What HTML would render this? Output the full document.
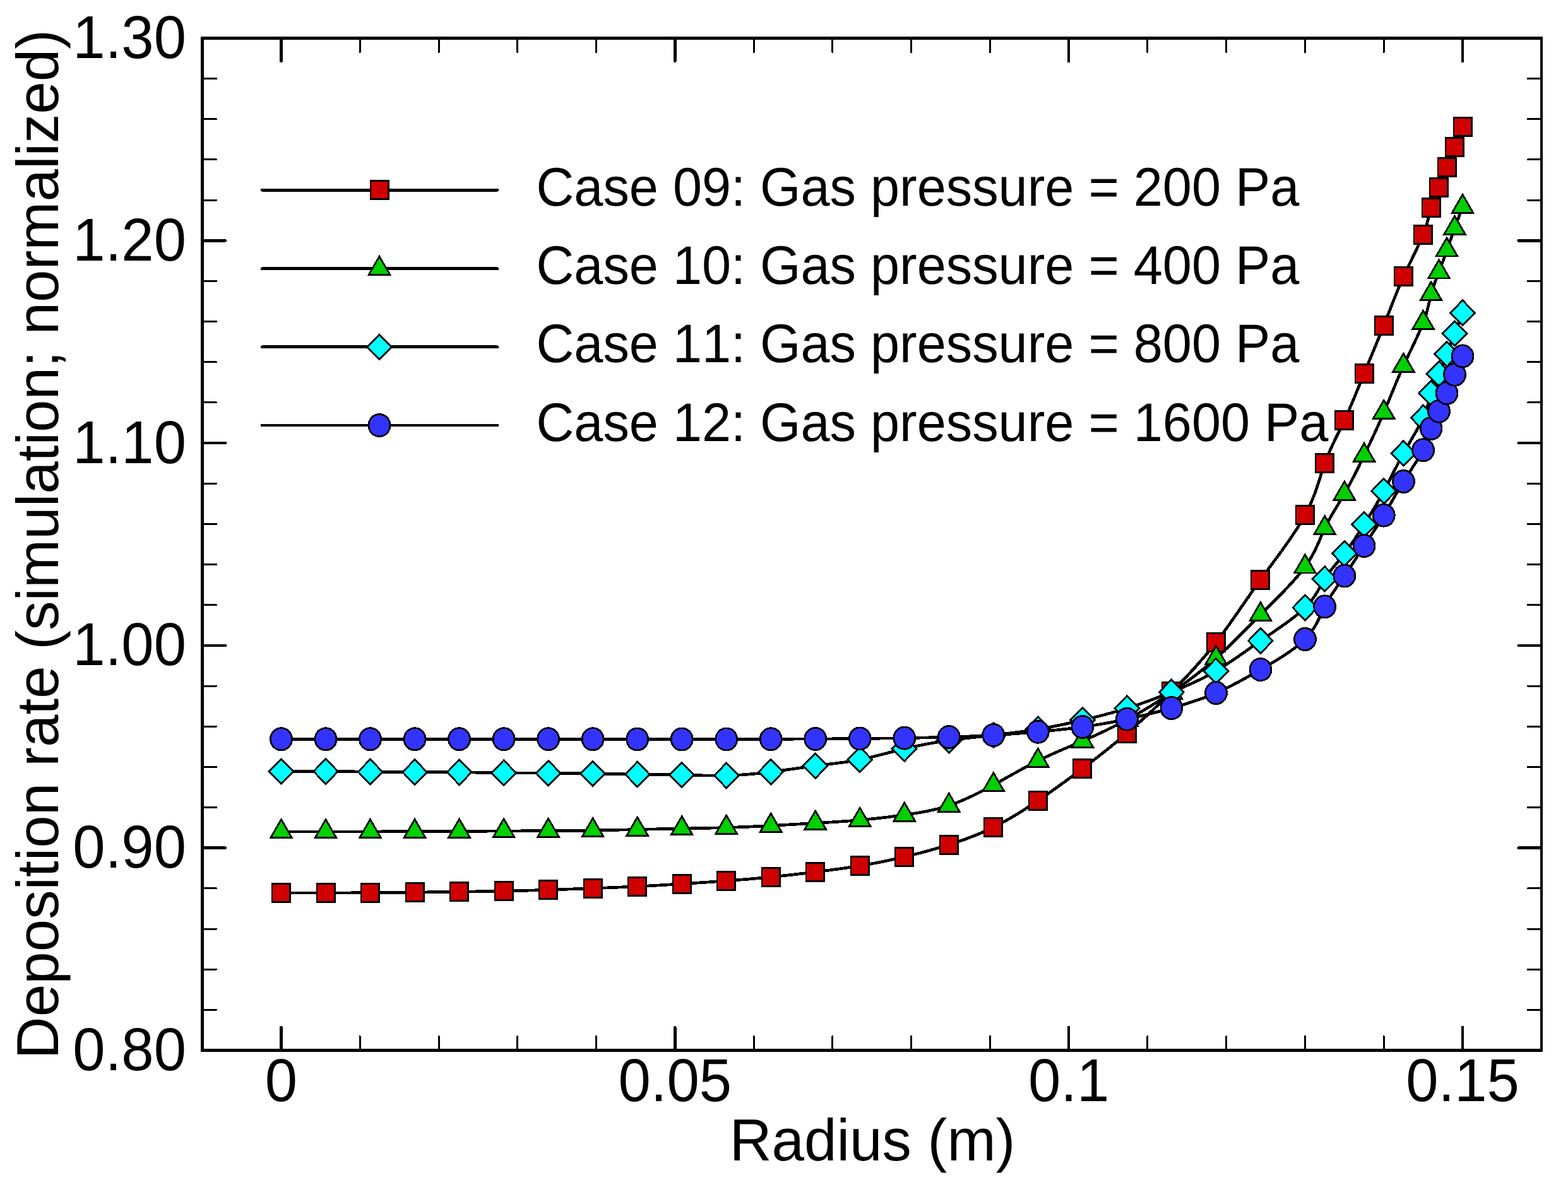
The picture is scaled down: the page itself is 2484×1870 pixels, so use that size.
<!DOCTYPE html>
<html lang="en">
<head>
<meta charset="utf-8">
<title>Deposition rate vs radius</title>
<style>
html,body{margin:0;padding:0;background:#fff;}
body{width:2484px;height:1870px;overflow:hidden;}
svg{display:block;}
text{font-family:"Liberation Sans",Arial,Helvetica,sans-serif;fill:#000;font-kerning:none;text-rendering:geometricPrecision;}
.ax{font-size:92.3px;}
.ti{font-size:92.6px;}
.lg{font-size:82.85px;}
</style>
</head>
<body>
<svg width="2484" height="1870" viewBox="0 0 2484 1870" shape-rendering="crispEdges">
<rect x="0" y="0" width="2484" height="1870" fill="#ffffff"/>
<g stroke="#000" stroke-linecap="round" fill="none">
<path stroke-width="4.6" d="M445.5 1664.5 V1628.2 M445.5 60.5 V96.8 M1069.34 1664.5 V1628.2 M1069.34 60.5 V96.8 M1693.17 1664.5 V1628.2 M1693.17 60.5 V96.8 M2317.01 1664.5 V1628.2 M2317.01 60.5 V96.8 M320.5 1343.7 H356.8 M2442 1343.7 H2405.7 M320.5 1022.9 H356.8 M2442 1022.9 H2405.7 M320.5 702.1 H356.8 M2442 702.1 H2405.7 M320.5 381.3 H356.8 M2442 381.3 H2405.7"/>
<path stroke-width="3" d="M570.27 1664.5 V1642.5 M570.27 60.5 V82.5 M695.03 1664.5 V1642.5 M695.03 60.5 V82.5 M819.8 1664.5 V1642.5 M819.8 60.5 V82.5 M944.57 1664.5 V1642.5 M944.57 60.5 V82.5 M1194.1 1664.5 V1642.5 M1194.1 60.5 V82.5 M1318.87 1664.5 V1642.5 M1318.87 60.5 V82.5 M1443.64 1664.5 V1642.5 M1443.64 60.5 V82.5 M1568.4 1664.5 V1642.5 M1568.4 60.5 V82.5 M1817.94 1664.5 V1642.5 M1817.94 60.5 V82.5 M1942.7 1664.5 V1642.5 M1942.7 60.5 V82.5 M2067.47 1664.5 V1642.5 M2067.47 60.5 V82.5 M2192.24 1664.5 V1642.5 M2192.24 60.5 V82.5 M2441.77 1664.5 V1642.5 M2441.77 60.5 V82.5 M320.5 1600.34 H342.5 M2442 1600.34 H2420 M320.5 1536.18 H342.5 M2442 1536.18 H2420 M320.5 1472.02 H342.5 M2442 1472.02 H2420 M320.5 1407.86 H342.5 M2442 1407.86 H2420 M320.5 1279.54 H342.5 M2442 1279.54 H2420 M320.5 1215.38 H342.5 M2442 1215.38 H2420 M320.5 1151.22 H342.5 M2442 1151.22 H2420 M320.5 1087.06 H342.5 M2442 1087.06 H2420 M320.5 958.74 H342.5 M2442 958.74 H2420 M320.5 894.58 H342.5 M2442 894.58 H2420 M320.5 830.42 H342.5 M2442 830.42 H2420 M320.5 766.26 H342.5 M2442 766.26 H2420 M320.5 637.94 H342.5 M2442 637.94 H2420 M320.5 573.78 H342.5 M2442 573.78 H2420 M320.5 509.62 H342.5 M2442 509.62 H2420 M320.5 445.46 H342.5 M2442 445.46 H2420 M320.5 317.14 H342.5 M2442 317.14 H2420 M320.5 252.98 H342.5 M2442 252.98 H2420 M320.5 188.82 H342.5 M2442 188.82 H2420 M320.5 124.66 H342.5 M2442 124.66 H2420"/>
</g>
<path fill="#000" fill-rule="evenodd" d="M318 58H2444V1667H318Z M323 63V1662H2440V63Z"/>
<text class="ax" transform="translate(295 1695.9) scale(1 1.04)" text-anchor="end">0.80</text>
<text class="ax" transform="translate(295 1375.1) scale(1 1.04)" text-anchor="end">0.90</text>
<text class="ax" transform="translate(295 1054.3) scale(1 1.04)" text-anchor="end">1.00</text>
<text class="ax" transform="translate(295 733.5) scale(1 1.04)" text-anchor="end">1.10</text>
<text class="ax" transform="translate(295 412.7) scale(1 1.04)" text-anchor="end">1.20</text>
<text class="ax" transform="translate(295 91.9) scale(1 1.04)" text-anchor="end">1.30</text>
<text class="ax" transform="translate(445.5 1745.2) scale(1 1.04)" text-anchor="middle">0</text>
<text class="ax" transform="translate(1069.34 1745.2) scale(1 1.04)" text-anchor="middle">0.05</text>
<text class="ax" transform="translate(1693.17 1745.2) scale(1 1.04)" text-anchor="middle">0.1</text>
<text class="ax" transform="translate(2317.01 1745.2) scale(1 1.04)" text-anchor="middle">0.15</text>
<text class="ti" transform="translate(1382 1838.5) scale(1 1.015)" text-anchor="middle">Radius (m)</text>
<text class="ti" transform="translate(92.3 862.5) rotate(-90) scale(1 1.015)" text-anchor="middle">Deposition rate (simulation; normalized)</text>
<g stroke="#000" stroke-width="4.7" stroke-linecap="round" fill="none">
<path d="M415 301.3 H788"/>
<path d="M415 425.7 H788"/>
<path d="M415 549.8 H788"/>
<path d="M415 674 H788"/>
</g>
<g fill="#d00000" stroke="#000" stroke-width="3" stroke-linejoin="miter"><rect x="586" y="285" width="31" height="32" fill="#000" stroke="none"/><rect x="588" y="288" width="26" height="26" stroke="none"/></g>
<text class="lg" transform="translate(849.5 325.8) scale(1 1.04)" text-anchor="start">Case 09: Gas pressure = 200 Pa</text>
<g fill="#00d000" stroke="#000" stroke-width="2.8" stroke-linejoin="miter"><path d="M601 406.3 L617.8 435.4 L584.2 435.4 Z"/></g>
<text class="lg" transform="translate(849.5 450.2) scale(1 1.04)" text-anchor="start">Case 10: Gas pressure = 400 Pa</text>
<g fill="#00ffff" stroke="#000" stroke-width="2.8" stroke-linejoin="miter"><path d="M601 530 L620.4 549.8 L601 569.6 L581.6 549.8 Z"/></g>
<text class="lg" transform="translate(849.5 574.3) scale(1 1.04)" text-anchor="start">Case 11: Gas pressure = 800 Pa</text>
<g fill="#3333ff" stroke="#000" stroke-width="2.8" stroke-linejoin="miter"><ellipse cx="601" cy="674" rx="17" ry="17.6"/></g>
<text class="lg" transform="translate(849.5 698.5) scale(1 1.04)" text-anchor="start">Case 12: Gas pressure = 1600 Pa</text>
<path d="M445.5 1415.1 L454.32 1415.09 L463.13 1415.08 L471.95 1415.07 L480.76 1415.06 L489.58 1415.05 L498.39 1415.04 L507.21 1415.02 L516.02 1415 L524.84 1414.98 L533.65 1414.95 L542.47 1414.92 L551.28 1414.88 L560.1 1414.84 L568.91 1414.8 L577.73 1414.75 L586.54 1414.7 L595.36 1414.64 L604.17 1414.58 L612.99 1414.51 L621.8 1414.44 L630.62 1414.37 L639.43 1414.28 L648.25 1414.19 L657.06 1414.1 L665.88 1414 L674.69 1413.89 L683.51 1413.78 L692.32 1413.67 L701.14 1413.55 L709.95 1413.44 L718.77 1413.32 L727.58 1413.2 L736.4 1413.08 L745.21 1412.96 L754.03 1412.84 L762.84 1412.71 L771.66 1412.58 L780.47 1412.43 L789.29 1412.27 L798.1 1412.1 L806.92 1411.91 L815.73 1411.71 L824.55 1411.49 L833.36 1411.26 L842.18 1411.01 L850.99 1410.75 L859.81 1410.48 L868.62 1410.2 L877.44 1409.91 L886.25 1409.61 L895.07 1409.3 L903.88 1408.99 L912.7 1408.67 L921.51 1408.35 L930.33 1408.03 L939.14 1407.7 L947.96 1407.37 L956.77 1407.04 L965.59 1406.71 L974.4 1406.36 L983.22 1406 L992.03 1405.62 L1000.85 1405.22 L1009.66 1404.8 L1018.48 1404.35 L1027.29 1403.88 L1036.11 1403.39 L1044.92 1402.88 L1053.74 1402.35 L1062.55 1401.81 L1071.37 1401.26 L1080.18 1400.7 L1089 1400.13 L1097.81 1399.56 L1106.63 1398.98 L1115.44 1398.39 L1124.26 1397.78 L1133.07 1397.17 L1141.89 1396.54 L1150.7 1395.9 L1159.52 1395.24 L1168.33 1394.56 L1177.15 1393.86 L1185.97 1393.14 L1194.78 1392.38 L1203.6 1391.59 L1212.41 1390.76 L1221.23 1389.9 L1230.04 1388.99 L1238.86 1388.05 L1247.67 1387.07 L1256.49 1386.06 L1265.3 1385.02 L1274.12 1383.96 L1282.93 1382.89 L1291.75 1381.8 L1300.56 1380.7 L1309.38 1379.58 L1318.19 1378.44 L1327.01 1377.25 L1335.82 1376.03 L1344.64 1374.75 L1353.45 1373.41 L1362.27 1372 L1371.08 1370.51 L1379.9 1368.94 L1388.71 1367.3 L1397.53 1365.57 L1406.34 1363.77 L1415.16 1361.89 L1423.97 1359.93 L1432.79 1357.9 L1441.6 1355.79 L1450.42 1353.6 L1459.23 1351.33 L1468.05 1348.97 L1476.86 1346.52 L1485.68 1343.98 L1494.49 1341.34 L1503.31 1338.6 L1512.12 1335.75 L1520.94 1332.78 L1529.75 1329.66 L1538.57 1326.36 L1547.38 1322.87 L1556.2 1319.16 L1565.01 1315.21 L1573.83 1311 L1582.64 1306.51 L1591.46 1301.75 L1600.27 1296.74 L1609.09 1291.51 L1617.9 1286.08 L1626.72 1280.47 L1635.53 1274.71 L1644.35 1268.8 L1653.16 1262.78 L1661.98 1256.64 L1670.79 1250.41 L1679.6 1244.08 L1688.42 1237.67 L1697.23 1231.18 L1706.05 1224.62 L1714.87 1218 L1723.69 1211.32 L1732.51 1204.58 L1741.33 1197.75 L1750.14 1190.83 L1758.96 1183.79 L1767.77 1176.64 L1776.58 1169.34 L1785.39 1161.9 L1794.19 1154.29 L1802.99 1146.52 L1811.79 1138.59 L1820.59 1130.49 L1829.4 1122.23 L1838.22 1113.82 L1847.06 1105.24 L1855.91 1096.5 L1864.78 1087.6 L1873.66 1078.51 L1882.53 1069.19 L1891.39 1059.61 L1900.22 1049.73 L1909.02 1039.53 L1917.76 1028.96 L1926.43 1018 L1935.04 1006.62 L1943.61 994.86 L1952.21 982.75 L1960.86 970.35 L1969.61 957.7 L1978.51 944.84 L1987.61 931.83 L1996.95 918.7 L2006.54 905.5 L2016.24 892.3 L2025.9 879.15 L2035.33 866.12 L2044.37 853.27 L2052.85 840.65 L2060.61 828.34 L2067.47 816.4 L2073.32 804.87 L2078.28 793.74 L2082.51 783.01 L2086.18 772.63 L2089.46 762.61 L2092.53 752.91 L2095.54 743.51 L2098.66 734.4 L2102.04 725.55 L2105.66 716.9 L2109.47 708.4 L2113.43 699.99 L2117.5 691.6 L2121.62 683.18 L2125.75 674.67 L2129.85 666 L2133.89 657.14 L2137.85 648.09 L2141.77 638.9 L2145.65 629.58 L2149.5 620.18 L2153.34 610.71 L2157.18 601.2 L2161.05 591.7 L2164.93 582.22 L2168.84 572.75 L2172.76 563.29 L2176.69 553.82 L2180.61 544.32 L2184.51 534.8 L2188.39 525.23 L2192.24 515.6 L2196.05 505.91 L2199.84 496.17 L2203.63 486.42 L2207.45 476.69 L2211.32 466.99 L2215.26 457.35 L2219.29 447.82 L2223.43 438.4 L2227.69 429.13 L2232.01 420.06 L2236.31 411.21 L2240.5 402.63 L2244.51 394.36 L2248.25 386.44 L2251.65 378.9 L2254.62 371.8 L2257.11 365.15 L2259.18 358.94 L2260.89 353.11 L2262.34 347.65 L2263.61 342.5 L2264.77 337.63 L2265.91 333.01 L2267.1 328.6 L2268.41 324.36 L2269.83 320.26 L2271.35 316.27 L2272.94 312.36 L2274.58 308.51 L2276.24 304.68 L2277.92 300.86 L2279.57 297 L2281.2 293.09 L2282.8 289.13 L2284.37 285.13 L2285.92 281.1 L2287.46 277.05 L2288.99 273 L2290.52 268.94 L2292.05 264.9 L2293.59 260.88 L2295.14 256.87 L2296.7 252.88 L2298.26 248.89 L2299.83 244.92 L2301.39 240.95 L2302.96 236.98 L2304.53 233 L2306.09 229.02 L2307.66 225.03 L2309.22 221.03 L2310.78 217.03 L2312.33 213.03 L2313.89 209.02 L2315.45 205.01 L2317.01 201" fill="none" stroke="#000" stroke-width="4.7" stroke-linejoin="round" stroke-linecap="round"/>
<g fill="#d00000" stroke="#000" stroke-width="3" stroke-linejoin="miter">
<rect x="430" y="1399" width="31" height="32" fill="#000" stroke="none"/><rect x="432" y="1402" width="26" height="26" stroke="none"/>
<rect x="501" y="1399" width="31" height="32" fill="#000" stroke="none"/><rect x="503" y="1402" width="26" height="26" stroke="none"/>
<rect x="571" y="1399" width="31" height="32" fill="#000" stroke="none"/><rect x="573" y="1402" width="26" height="26" stroke="none"/>
<rect x="642" y="1398" width="31" height="32" fill="#000" stroke="none"/><rect x="644" y="1401" width="26" height="26" stroke="none"/>
<rect x="712" y="1397" width="31" height="32" fill="#000" stroke="none"/><rect x="714" y="1400" width="26" height="26" stroke="none"/>
<rect x="783" y="1396" width="31" height="32" fill="#000" stroke="none"/><rect x="785" y="1399" width="26" height="26" stroke="none"/>
<rect x="853" y="1394" width="31" height="32" fill="#000" stroke="none"/><rect x="855" y="1397" width="26" height="26" stroke="none"/>
<rect x="924" y="1392" width="31" height="32" fill="#000" stroke="none"/><rect x="926" y="1395" width="26" height="26" stroke="none"/>
<rect x="994" y="1389" width="31" height="32" fill="#000" stroke="none"/><rect x="996" y="1392" width="26" height="26" stroke="none"/>
<rect x="1065" y="1385" width="31" height="32" fill="#000" stroke="none"/><rect x="1067" y="1388" width="26" height="26" stroke="none"/>
<rect x="1135" y="1380" width="31" height="32" fill="#000" stroke="none"/><rect x="1137" y="1383" width="26" height="26" stroke="none"/>
<rect x="1206" y="1374" width="31" height="32" fill="#000" stroke="none"/><rect x="1208" y="1377" width="26" height="26" stroke="none"/>
<rect x="1276" y="1366" width="31" height="32" fill="#000" stroke="none"/><rect x="1278" y="1369" width="26" height="26" stroke="none"/>
<rect x="1347" y="1356" width="31" height="32" fill="#000" stroke="none"/><rect x="1349" y="1359" width="26" height="26" stroke="none"/>
<rect x="1417" y="1342" width="31" height="32" fill="#000" stroke="none"/><rect x="1419" y="1345" width="26" height="26" stroke="none"/>
<rect x="1488" y="1323" width="31" height="32" fill="#000" stroke="none"/><rect x="1490" y="1326" width="26" height="26" stroke="none"/>
<rect x="1558" y="1295" width="31" height="32" fill="#000" stroke="none"/><rect x="1560" y="1298" width="26" height="26" stroke="none"/>
<rect x="1629" y="1253" width="31" height="32" fill="#000" stroke="none"/><rect x="1631" y="1256" width="26" height="26" stroke="none"/>
<rect x="1699" y="1202" width="31" height="32" fill="#000" stroke="none"/><rect x="1701" y="1205" width="26" height="26" stroke="none"/>
<rect x="1770" y="1146" width="31" height="32" fill="#000" stroke="none"/><rect x="1772" y="1149" width="26" height="26" stroke="none"/>
<rect x="1840" y="1080" width="31" height="32" fill="#000" stroke="none"/><rect x="1842" y="1083" width="26" height="26" stroke="none"/>
<rect x="1911" y="1002" width="31" height="32" fill="#000" stroke="none"/><rect x="1913" y="1005" width="26" height="26" stroke="none"/>
<rect x="1981" y="903" width="31" height="32" fill="#000" stroke="none"/><rect x="1983" y="906" width="26" height="26" stroke="none"/>
<rect x="2052" y="800" width="31" height="32" fill="#000" stroke="none"/><rect x="2054" y="803" width="26" height="26" stroke="none"/>
<rect x="2083" y="718" width="31" height="32" fill="#000" stroke="none"/><rect x="2085" y="721" width="26" height="26" stroke="none"/>
<rect x="2114" y="650" width="31" height="32" fill="#000" stroke="none"/><rect x="2116" y="653" width="26" height="26" stroke="none"/>
<rect x="2146" y="576" width="31" height="32" fill="#000" stroke="none"/><rect x="2148" y="579" width="26" height="26" stroke="none"/>
<rect x="2177" y="500" width="31" height="32" fill="#000" stroke="none"/><rect x="2179" y="503" width="26" height="26" stroke="none"/>
<rect x="2208" y="422" width="31" height="32" fill="#000" stroke="none"/><rect x="2210" y="425" width="26" height="26" stroke="none"/>
<rect x="2239" y="356" width="31" height="32" fill="#000" stroke="none"/><rect x="2241" y="359" width="26" height="26" stroke="none"/>
<rect x="2252" y="313" width="31" height="32" fill="#000" stroke="none"/><rect x="2254" y="316" width="26" height="26" stroke="none"/>
<rect x="2264" y="281" width="31" height="32" fill="#000" stroke="none"/><rect x="2266" y="284" width="26" height="26" stroke="none"/>
<rect x="2277" y="249" width="31" height="32" fill="#000" stroke="none"/><rect x="2279" y="252" width="26" height="26" stroke="none"/>
<rect x="2289" y="217" width="31" height="32" fill="#000" stroke="none"/><rect x="2291" y="220" width="26" height="26" stroke="none"/>
<rect x="2302" y="185" width="31" height="32" fill="#000" stroke="none"/><rect x="2304" y="188" width="26" height="26" stroke="none"/>
</g>
<path d="M445.5 1318 L454.32 1318 L463.13 1318 L471.95 1318.01 L480.76 1318.01 L489.58 1318.01 L498.39 1318.01 L507.21 1318 L516.02 1318 L524.84 1317.99 L533.65 1317.99 L542.47 1317.98 L551.28 1317.96 L560.1 1317.95 L568.91 1317.94 L577.73 1317.92 L586.54 1317.9 L595.36 1317.88 L604.17 1317.86 L612.99 1317.84 L621.8 1317.81 L630.62 1317.79 L639.43 1317.76 L648.25 1317.73 L657.06 1317.7 L665.88 1317.67 L674.69 1317.64 L683.51 1317.6 L692.32 1317.56 L701.14 1317.53 L709.95 1317.49 L718.77 1317.44 L727.58 1317.4 L736.4 1317.35 L745.21 1317.31 L754.03 1317.26 L762.84 1317.21 L771.66 1317.16 L780.47 1317.1 L789.29 1317.05 L798.1 1317 L806.92 1316.95 L815.73 1316.9 L824.55 1316.85 L833.36 1316.79 L842.18 1316.74 L850.99 1316.7 L859.81 1316.65 L868.62 1316.6 L877.44 1316.55 L886.25 1316.5 L895.07 1316.45 L903.88 1316.39 L912.7 1316.32 L921.51 1316.23 L930.33 1316.12 L939.14 1316 L947.96 1315.85 L956.77 1315.69 L965.59 1315.5 L974.4 1315.31 L983.22 1315.11 L992.03 1314.91 L1000.85 1314.7 L1009.66 1314.5 L1018.48 1314.31 L1027.29 1314.12 L1036.11 1313.94 L1044.92 1313.77 L1053.74 1313.6 L1062.55 1313.43 L1071.37 1313.26 L1080.18 1313.1 L1089 1312.94 L1097.81 1312.77 L1106.63 1312.59 L1115.44 1312.41 L1124.26 1312.21 L1133.07 1312 L1141.89 1311.76 L1150.7 1311.5 L1159.52 1311.21 L1168.33 1310.9 L1177.15 1310.56 L1185.97 1310.19 L1194.78 1309.8 L1203.6 1309.39 L1212.41 1308.96 L1221.23 1308.5 L1230.04 1308.02 L1238.86 1307.53 L1247.67 1307.02 L1256.49 1306.51 L1265.3 1305.98 L1274.12 1305.45 L1282.93 1304.93 L1291.75 1304.4 L1300.56 1303.88 L1309.38 1303.35 L1318.19 1302.82 L1327.01 1302.25 L1335.82 1301.66 L1344.64 1301.03 L1353.45 1300.34 L1362.27 1299.6 L1371.08 1298.79 L1379.9 1297.91 L1388.71 1296.96 L1397.53 1295.96 L1406.34 1294.9 L1415.16 1293.78 L1423.97 1292.62 L1432.79 1291.4 L1441.6 1290.13 L1450.42 1288.78 L1459.23 1287.29 L1468.05 1285.64 L1476.86 1283.77 L1485.68 1281.66 L1494.49 1279.25 L1503.31 1276.5 L1512.12 1273.39 L1520.94 1269.94 L1529.75 1266.18 L1538.57 1262.15 L1547.38 1257.88 L1556.2 1253.41 L1565.01 1248.77 L1573.83 1244 L1582.64 1239.13 L1591.46 1234.21 L1600.27 1229.26 L1609.09 1224.34 L1617.9 1219.47 L1626.72 1214.7 L1635.53 1210.06 L1644.35 1205.6 L1653.16 1201.34 L1661.98 1197.25 L1670.79 1193.31 L1679.6 1189.46 L1688.42 1185.69 L1697.23 1181.94 L1706.05 1178.19 L1714.87 1174.4 L1723.69 1170.53 L1732.51 1166.58 L1741.33 1162.53 L1750.14 1158.37 L1758.96 1154.1 L1767.77 1149.71 L1776.58 1145.17 L1785.39 1140.5 L1794.19 1135.67 L1802.99 1130.69 L1811.79 1125.56 L1820.59 1120.26 L1829.4 1114.81 L1838.22 1109.2 L1847.06 1103.43 L1855.91 1097.5 L1864.78 1091.4 L1873.66 1085.13 L1882.53 1078.67 L1891.39 1072.01 L1900.22 1065.13 L1909.02 1058.03 L1917.76 1050.69 L1926.43 1043.1 L1935.04 1035.25 L1943.61 1027.15 L1952.21 1018.81 L1960.86 1010.24 L1969.61 1001.45 L1978.51 992.46 L1987.61 983.27 L1996.95 973.9 L2006.54 964.37 L2016.24 954.72 L2025.9 945.04 L2035.33 935.38 L2044.37 925.82 L2052.85 916.4 L2060.61 907.21 L2067.47 898.3 L2073.32 889.73 L2078.28 881.47 L2082.51 873.51 L2086.18 865.81 L2089.46 858.34 L2092.53 851.07 L2095.54 843.96 L2098.66 837 L2102.04 830.15 L2105.66 823.37 L2109.47 816.64 L2113.43 809.91 L2117.5 803.17 L2121.62 796.38 L2125.75 789.5 L2129.85 782.5 L2133.89 775.36 L2137.85 768.07 L2141.77 760.65 L2145.65 753.09 L2149.5 745.42 L2153.34 737.62 L2157.18 729.71 L2161.05 721.7 L2164.93 713.59 L2168.84 705.37 L2172.76 697.05 L2176.69 688.62 L2180.61 680.08 L2184.51 671.41 L2188.39 662.62 L2192.24 653.7 L2196.05 644.65 L2199.84 635.5 L2203.63 626.26 L2207.45 616.95 L2211.32 607.61 L2215.26 598.26 L2219.29 588.91 L2223.43 579.6 L2227.69 570.35 L2232.01 561.21 L2236.31 552.23 L2240.5 543.46 L2244.51 534.96 L2248.25 526.78 L2251.65 518.98 L2254.62 511.6 L2257.11 504.68 L2259.18 498.2 L2260.89 492.12 L2262.34 486.38 L2263.61 480.96 L2264.77 475.79 L2265.91 470.86 L2267.1 466.1 L2268.41 461.48 L2269.83 456.99 L2271.35 452.58 L2272.94 448.25 L2274.58 443.97 L2276.24 439.71 L2277.92 435.46 L2279.57 431.2 L2281.2 426.9 L2282.8 422.57 L2284.37 418.22 L2285.92 413.85 L2287.46 409.46 L2288.99 405.07 L2290.52 400.68 L2292.05 396.3 L2293.59 391.93 L2295.14 387.57 L2296.7 383.23 L2298.26 378.9 L2299.83 374.58 L2301.39 370.28 L2302.96 365.98 L2304.53 361.7 L2306.09 357.43 L2307.66 353.16 L2309.22 348.91 L2310.78 344.66 L2312.33 340.41 L2313.89 336.17 L2315.45 331.94 L2317.01 327.7" fill="none" stroke="#000" stroke-width="4.7" stroke-linejoin="round" stroke-linecap="round"/>
<g fill="#00d000" stroke="#000" stroke-width="2.8" stroke-linejoin="miter">
<path d="M445.5 1298.6 L462.3 1327.7 L428.7 1327.7 Z"/>
<path d="M516.02 1298.6 L532.82 1327.7 L499.22 1327.7 Z"/>
<path d="M586.54 1298.5 L603.34 1327.6 L569.74 1327.6 Z"/>
<path d="M657.06 1298.3 L673.86 1327.4 L640.26 1327.4 Z"/>
<path d="M727.58 1298 L744.38 1327.1 L710.78 1327.1 Z"/>
<path d="M798.1 1297.6 L814.9 1326.7 L781.3 1326.7 Z"/>
<path d="M868.62 1297.2 L885.42 1326.3 L851.82 1326.3 Z"/>
<path d="M939.14 1296.6 L955.94 1325.7 L922.34 1325.7 Z"/>
<path d="M1009.66 1295.1 L1026.46 1324.2 L992.86 1324.2 Z"/>
<path d="M1080.18 1293.7 L1096.99 1322.8 L1063.38 1322.8 Z"/>
<path d="M1150.7 1292.1 L1167.51 1321.2 L1133.9 1321.2 Z"/>
<path d="M1221.23 1289.1 L1238.03 1318.2 L1204.42 1318.2 Z"/>
<path d="M1291.75 1285 L1308.55 1314.1 L1274.94 1314.1 Z"/>
<path d="M1362.27 1280.2 L1379.07 1309.3 L1345.47 1309.3 Z"/>
<path d="M1432.79 1272 L1449.59 1301.1 L1415.99 1301.1 Z"/>
<path d="M1503.31 1257.1 L1520.11 1286.2 L1486.51 1286.2 Z"/>
<path d="M1573.83 1224.6 L1590.63 1253.7 L1557.03 1253.7 Z"/>
<path d="M1644.35 1186.2 L1661.15 1215.3 L1627.55 1215.3 Z"/>
<path d="M1714.87 1155 L1731.67 1184.1 L1698.07 1184.1 Z"/>
<path d="M1785.39 1121.1 L1802.19 1150.2 L1768.59 1150.2 Z"/>
<path d="M1855.91 1078.1 L1872.71 1107.2 L1839.11 1107.2 Z"/>
<path d="M1926.43 1023.7 L1943.23 1052.8 L1909.63 1052.8 Z"/>
<path d="M1996.95 954.5 L2013.75 983.6 L1980.15 983.6 Z"/>
<path d="M2067.47 878.9 L2084.27 908 L2050.67 908 Z"/>
<path d="M2098.66 817.6 L2115.46 846.7 L2081.86 846.7 Z"/>
<path d="M2129.85 763.1 L2146.66 792.2 L2113.05 792.2 Z"/>
<path d="M2161.05 702.3 L2177.85 731.4 L2144.25 731.4 Z"/>
<path d="M2192.24 634.3 L2209.04 663.4 L2175.44 663.4 Z"/>
<path d="M2223.43 560.2 L2240.23 589.3 L2206.63 589.3 Z"/>
<path d="M2254.62 492.2 L2271.42 521.3 L2237.82 521.3 Z"/>
<path d="M2267.1 446.7 L2283.9 475.8 L2250.3 475.8 Z"/>
<path d="M2279.57 411.8 L2296.38 440.9 L2262.77 440.9 Z"/>
<path d="M2292.05 376.9 L2308.85 406 L2275.25 406 Z"/>
<path d="M2304.53 342.3 L2321.33 371.4 L2287.73 371.4 Z"/>
<path d="M2317.01 308.3 L2333.81 337.4 L2300.2 337.4 Z"/>
</g>
<path d="M445.5 1222.5 L454.32 1222.48 L463.13 1222.46 L471.95 1222.45 L480.76 1222.44 L489.58 1222.44 L498.39 1222.45 L507.21 1222.47 L516.02 1222.5 L524.84 1222.55 L533.65 1222.61 L542.47 1222.68 L551.28 1222.76 L560.1 1222.84 L568.91 1222.93 L577.73 1223.01 L586.54 1223.1 L595.36 1223.18 L604.17 1223.26 L612.99 1223.33 L621.8 1223.4 L630.62 1223.46 L639.43 1223.51 L648.25 1223.56 L657.06 1223.6 L665.88 1223.63 L674.69 1223.66 L683.51 1223.69 L692.32 1223.71 L701.14 1223.74 L709.95 1223.78 L718.77 1223.84 L727.58 1223.9 L736.4 1223.98 L745.21 1224.08 L754.03 1224.18 L762.84 1224.29 L771.66 1224.4 L780.47 1224.51 L789.29 1224.61 L798.1 1224.7 L806.92 1224.78 L815.73 1224.84 L824.55 1224.9 L833.36 1224.96 L842.18 1225.01 L850.99 1225.07 L859.81 1225.13 L868.62 1225.2 L877.44 1225.28 L886.25 1225.38 L895.07 1225.48 L903.88 1225.59 L912.7 1225.71 L921.51 1225.83 L930.33 1225.97 L939.14 1226.1 L947.96 1226.24 L956.77 1226.37 L965.59 1226.51 L974.4 1226.64 L983.22 1226.77 L992.03 1226.89 L1000.85 1227 L1009.66 1227.1 L1018.48 1227.19 L1027.29 1227.27 L1036.11 1227.35 L1044.92 1227.43 L1053.74 1227.53 L1062.55 1227.66 L1071.37 1227.81 L1080.18 1228 L1089 1228.23 L1097.81 1228.47 L1106.63 1228.71 L1115.44 1228.92 L1124.26 1229.08 L1133.07 1229.16 L1141.89 1229.14 L1150.7 1229 L1159.52 1228.71 L1168.33 1228.28 L1177.15 1227.73 L1185.97 1227.05 L1194.78 1226.25 L1203.6 1225.36 L1212.41 1224.37 L1221.23 1223.3 L1230.04 1222.15 L1238.86 1220.95 L1247.67 1219.71 L1256.49 1218.46 L1265.3 1217.2 L1274.12 1215.96 L1282.93 1214.75 L1291.75 1213.6 L1300.56 1212.51 L1309.38 1211.46 L1318.19 1210.41 L1327.01 1209.32 L1335.82 1208.15 L1344.64 1206.86 L1353.45 1205.43 L1362.27 1203.8 L1371.08 1201.96 L1379.9 1199.93 L1388.71 1197.77 L1397.53 1195.52 L1406.34 1193.22 L1415.16 1190.92 L1423.97 1188.67 L1432.79 1186.5 L1441.6 1184.46 L1450.42 1182.55 L1459.23 1180.76 L1468.05 1179.09 L1476.86 1177.52 L1485.68 1176.05 L1494.49 1174.68 L1503.31 1173.4 L1512.12 1172.2 L1520.94 1171.06 L1529.75 1169.98 L1538.57 1168.95 L1547.38 1167.95 L1556.2 1166.96 L1565.01 1165.98 L1573.83 1165 L1582.64 1164 L1591.46 1162.97 L1600.27 1161.9 L1609.09 1160.78 L1617.9 1159.6 L1626.72 1158.35 L1635.53 1157.02 L1644.35 1155.6 L1653.16 1154.08 L1661.98 1152.47 L1670.79 1150.77 L1679.6 1148.98 L1688.42 1147.13 L1697.23 1145.21 L1706.05 1143.23 L1714.87 1141.2 L1723.69 1139.12 L1732.51 1136.99 L1741.33 1134.79 L1750.14 1132.51 L1758.96 1130.14 L1767.77 1127.68 L1776.58 1125.1 L1785.39 1122.4 L1794.19 1119.57 L1802.99 1116.62 L1811.79 1113.55 L1820.59 1110.37 L1829.4 1107.09 L1838.22 1103.71 L1847.06 1100.24 L1855.91 1096.7 L1864.78 1093.08 L1873.66 1089.36 L1882.53 1085.5 L1891.39 1081.49 L1900.22 1077.3 L1909.02 1072.89 L1917.76 1068.23 L1926.43 1063.3 L1935.04 1058.08 L1943.61 1052.58 L1952.21 1046.85 L1960.86 1040.89 L1969.61 1034.75 L1978.51 1028.45 L1987.61 1022.03 L1996.95 1015.5 L2006.54 1008.9 L2016.24 1002.26 L2025.9 995.6 L2035.33 988.95 L2044.37 982.34 L2052.85 975.79 L2060.61 969.34 L2067.47 963 L2073.32 956.81 L2078.28 950.76 L2082.51 944.85 L2086.18 939.08 L2089.46 933.46 L2092.53 927.97 L2095.54 922.62 L2098.66 917.4 L2102.04 912.31 L2105.66 907.31 L2109.47 902.38 L2113.43 897.46 L2117.5 892.53 L2121.62 887.55 L2125.75 882.49 L2129.85 877.3 L2133.89 871.96 L2137.85 866.47 L2141.77 860.84 L2145.65 855.08 L2149.5 849.21 L2153.34 843.23 L2157.18 837.16 L2161.05 831 L2164.93 824.77 L2168.84 818.45 L2172.76 812.03 L2176.69 805.52 L2180.61 798.89 L2184.51 792.13 L2188.39 785.24 L2192.24 778.2 L2196.05 771.01 L2199.84 763.69 L2203.63 756.26 L2207.45 748.75 L2211.32 741.17 L2215.26 733.55 L2219.29 725.92 L2223.43 718.3 L2227.69 710.71 L2232.01 703.2 L2236.31 695.8 L2240.5 688.57 L2244.51 681.54 L2248.25 674.75 L2251.65 668.26 L2254.62 662.1 L2257.11 656.3 L2259.18 650.85 L2260.89 645.7 L2262.34 640.82 L2263.61 636.18 L2264.77 631.73 L2265.91 627.45 L2267.1 623.3 L2268.41 619.24 L2269.83 615.27 L2271.35 611.36 L2272.94 607.5 L2274.58 603.68 L2276.24 599.88 L2277.92 596.09 L2279.57 592.3 L2281.2 588.49 L2282.8 584.66 L2284.37 580.82 L2285.92 576.95 L2287.46 573.05 L2288.99 569.13 L2290.52 565.18 L2292.05 561.2 L2293.59 557.19 L2295.14 553.16 L2296.7 549.1 L2298.26 545.02 L2299.83 540.93 L2301.39 536.82 L2302.96 532.71 L2304.53 528.6 L2306.09 524.49 L2307.66 520.37 L2309.22 516.26 L2310.78 512.15 L2312.33 508.04 L2313.89 503.92 L2315.45 499.81 L2317.01 495.7" fill="none" stroke="#000" stroke-width="4.7" stroke-linejoin="round" stroke-linecap="round"/>
<g fill="#00ffff" stroke="#000" stroke-width="2.8" stroke-linejoin="miter">
<path d="M445.5 1202.7 L464.9 1222.5 L445.5 1242.3 L426.1 1222.5 Z"/>
<path d="M516.02 1202.7 L535.42 1222.5 L516.02 1242.3 L496.62 1222.5 Z"/>
<path d="M586.54 1203.3 L605.94 1223.1 L586.54 1242.9 L567.14 1223.1 Z"/>
<path d="M657.06 1203.8 L676.46 1223.6 L657.06 1243.4 L637.66 1223.6 Z"/>
<path d="M727.58 1204.1 L746.98 1223.9 L727.58 1243.7 L708.18 1223.9 Z"/>
<path d="M798.1 1204.9 L817.5 1224.7 L798.1 1244.5 L778.7 1224.7 Z"/>
<path d="M868.62 1205.4 L888.02 1225.2 L868.62 1245 L849.22 1225.2 Z"/>
<path d="M939.14 1206.3 L958.54 1226.1 L939.14 1245.9 L919.74 1226.1 Z"/>
<path d="M1009.66 1207.3 L1029.06 1227.1 L1009.66 1246.9 L990.26 1227.1 Z"/>
<path d="M1080.18 1208.2 L1099.58 1228 L1080.18 1247.8 L1060.78 1228 Z"/>
<path d="M1150.7 1209.2 L1170.1 1229 L1150.7 1248.8 L1131.3 1229 Z"/>
<path d="M1221.23 1203.5 L1240.63 1223.3 L1221.23 1243.1 L1201.83 1223.3 Z"/>
<path d="M1291.75 1193.8 L1311.15 1213.6 L1291.75 1233.4 L1272.35 1213.6 Z"/>
<path d="M1362.27 1184 L1381.67 1203.8 L1362.27 1223.6 L1342.87 1203.8 Z"/>
<path d="M1432.79 1166.7 L1452.19 1186.5 L1432.79 1206.3 L1413.39 1186.5 Z"/>
<path d="M1503.31 1153.6 L1522.71 1173.4 L1503.31 1193.2 L1483.91 1173.4 Z"/>
<path d="M1573.83 1145.2 L1593.23 1165 L1573.83 1184.8 L1554.43 1165 Z"/>
<path d="M1644.35 1135.8 L1663.75 1155.6 L1644.35 1175.4 L1624.95 1155.6 Z"/>
<path d="M1714.87 1121.4 L1734.27 1141.2 L1714.87 1161 L1695.47 1141.2 Z"/>
<path d="M1785.39 1102.6 L1804.79 1122.4 L1785.39 1142.2 L1765.99 1122.4 Z"/>
<path d="M1855.91 1076.9 L1875.31 1096.7 L1855.91 1116.5 L1836.51 1096.7 Z"/>
<path d="M1926.43 1043.5 L1945.83 1063.3 L1926.43 1083.1 L1907.03 1063.3 Z"/>
<path d="M1996.95 995.7 L2016.35 1015.5 L1996.95 1035.3 L1977.55 1015.5 Z"/>
<path d="M2067.47 943.2 L2086.87 963 L2067.47 982.8 L2048.07 963 Z"/>
<path d="M2098.66 897.6 L2118.06 917.4 L2098.66 937.2 L2079.26 917.4 Z"/>
<path d="M2129.85 857.5 L2149.25 877.3 L2129.85 897.1 L2110.45 877.3 Z"/>
<path d="M2161.05 811.2 L2180.45 831 L2161.05 850.8 L2141.65 831 Z"/>
<path d="M2192.24 758.4 L2211.64 778.2 L2192.24 798 L2172.84 778.2 Z"/>
<path d="M2223.43 698.5 L2242.83 718.3 L2223.43 738.1 L2204.03 718.3 Z"/>
<path d="M2254.62 642.3 L2274.02 662.1 L2254.62 681.9 L2235.22 662.1 Z"/>
<path d="M2267.1 603.5 L2286.5 623.3 L2267.1 643.1 L2247.7 623.3 Z"/>
<path d="M2279.57 572.5 L2298.97 592.3 L2279.57 612.1 L2260.17 592.3 Z"/>
<path d="M2292.05 541.4 L2311.45 561.2 L2292.05 581 L2272.65 561.2 Z"/>
<path d="M2304.53 508.8 L2323.93 528.6 L2304.53 548.4 L2285.13 528.6 Z"/>
<path d="M2317.01 475.9 L2336.41 495.7 L2317.01 515.5 L2297.61 495.7 Z"/>
</g>
<path d="M445.5 1171.3 L454.32 1171.3 L463.13 1171.3 L471.95 1171.3 L480.76 1171.3 L489.58 1171.3 L498.39 1171.3 L507.21 1171.3 L516.02 1171.3 L524.84 1171.3 L533.65 1171.3 L542.47 1171.3 L551.28 1171.3 L560.1 1171.3 L568.91 1171.3 L577.73 1171.3 L586.54 1171.3 L595.36 1171.3 L604.17 1171.3 L612.99 1171.3 L621.8 1171.3 L630.62 1171.3 L639.43 1171.3 L648.25 1171.3 L657.06 1171.3 L665.88 1171.3 L674.69 1171.3 L683.51 1171.3 L692.32 1171.3 L701.14 1171.3 L709.95 1171.3 L718.77 1171.3 L727.58 1171.3 L736.4 1171.3 L745.21 1171.3 L754.03 1171.3 L762.84 1171.3 L771.66 1171.3 L780.47 1171.3 L789.29 1171.3 L798.1 1171.3 L806.92 1171.3 L815.73 1171.3 L824.55 1171.3 L833.36 1171.31 L842.18 1171.31 L850.99 1171.31 L859.81 1171.3 L868.62 1171.3 L877.44 1171.29 L886.25 1171.29 L895.07 1171.28 L903.88 1171.28 L912.7 1171.28 L921.51 1171.28 L930.33 1171.29 L939.14 1171.3 L947.96 1171.32 L956.77 1171.34 L965.59 1171.37 L974.4 1171.4 L983.22 1171.43 L992.03 1171.46 L1000.85 1171.48 L1009.66 1171.5 L1018.48 1171.51 L1027.29 1171.52 L1036.11 1171.52 L1044.92 1171.52 L1053.74 1171.51 L1062.55 1171.51 L1071.37 1171.5 L1080.18 1171.5 L1089 1171.5 L1097.81 1171.5 L1106.63 1171.51 L1115.44 1171.51 L1124.26 1171.51 L1133.07 1171.51 L1141.89 1171.51 L1150.7 1171.5 L1159.52 1171.49 L1168.33 1171.47 L1177.15 1171.45 L1185.97 1171.42 L1194.78 1171.39 L1203.6 1171.36 L1212.41 1171.33 L1221.23 1171.3 L1230.04 1171.27 L1238.86 1171.23 L1247.67 1171.2 L1256.49 1171.16 L1265.3 1171.13 L1274.12 1171.09 L1282.93 1171.04 L1291.75 1171 L1300.56 1170.95 L1309.38 1170.9 L1318.19 1170.85 L1327.01 1170.79 L1335.82 1170.72 L1344.64 1170.65 L1353.45 1170.58 L1362.27 1170.5 L1371.08 1170.41 L1379.9 1170.32 L1388.71 1170.22 L1397.53 1170.11 L1406.34 1170 L1415.16 1169.88 L1423.97 1169.74 L1432.79 1169.6 L1441.6 1169.45 L1450.42 1169.28 L1459.23 1169.11 L1468.05 1168.92 L1476.86 1168.71 L1485.68 1168.49 L1494.49 1168.26 L1503.31 1168 L1512.12 1167.72 L1520.94 1167.43 L1529.75 1167.1 L1538.57 1166.75 L1547.38 1166.37 L1556.2 1165.95 L1565.01 1165.49 L1573.83 1165 L1582.64 1164.46 L1591.46 1163.89 L1600.27 1163.27 L1609.09 1162.62 L1617.9 1161.93 L1626.72 1161.22 L1635.53 1160.47 L1644.35 1159.7 L1653.16 1158.9 L1661.98 1158.07 L1670.79 1157.2 L1679.6 1156.28 L1688.42 1155.31 L1697.23 1154.28 L1706.05 1153.18 L1714.87 1152 L1723.69 1150.74 L1732.51 1149.39 L1741.33 1147.97 L1750.14 1146.46 L1758.96 1144.87 L1767.77 1143.19 L1776.58 1141.44 L1785.39 1139.6 L1794.19 1137.68 L1802.99 1135.69 L1811.79 1133.61 L1820.59 1131.46 L1829.4 1129.23 L1838.22 1126.93 L1847.06 1124.55 L1855.91 1122.1 L1864.78 1119.57 L1873.66 1116.95 L1882.53 1114.22 L1891.39 1111.35 L1900.22 1108.32 L1909.02 1105.12 L1917.76 1101.72 L1926.43 1098.1 L1935.04 1094.25 L1943.61 1090.16 L1952.21 1085.84 L1960.86 1081.31 L1969.61 1076.56 L1978.51 1071.6 L1987.61 1066.45 L1996.95 1061.1 L2006.54 1055.57 L2016.24 1049.86 L2025.9 1044.01 L2035.33 1038.01 L2044.37 1031.9 L2052.85 1025.68 L2060.61 1019.37 L2067.47 1013 L2073.32 1006.57 L2078.28 1000.11 L2082.51 993.62 L2086.18 987.12 L2089.46 980.64 L2092.53 974.18 L2095.54 967.76 L2098.66 961.4 L2102.04 955.11 L2105.66 948.88 L2109.47 942.71 L2113.43 936.59 L2117.5 930.52 L2121.62 924.49 L2125.75 918.48 L2129.85 912.5 L2133.89 906.54 L2137.85 900.59 L2141.77 894.65 L2145.65 888.72 L2149.5 882.81 L2153.34 876.9 L2157.18 871 L2161.05 865.1 L2164.93 859.2 L2168.84 853.29 L2172.76 847.35 L2176.69 841.36 L2180.61 835.31 L2184.51 829.18 L2188.39 822.95 L2192.24 816.6 L2196.05 810.13 L2199.84 803.55 L2203.63 796.88 L2207.45 790.15 L2211.32 783.37 L2215.26 776.57 L2219.29 769.78 L2223.43 763 L2227.69 756.27 L2232.01 749.62 L2236.31 743.08 L2240.5 736.69 L2244.51 730.48 L2248.25 724.49 L2251.65 718.75 L2254.62 713.3 L2257.11 708.16 L2259.18 703.31 L2260.89 698.73 L2262.34 694.39 L2263.61 690.26 L2264.77 686.32 L2265.91 682.54 L2267.1 678.9 L2268.41 675.37 L2269.83 671.92 L2271.35 668.53 L2272.94 665.19 L2274.58 661.87 L2276.24 658.54 L2277.92 655.19 L2279.57 651.8 L2281.2 648.34 L2282.8 644.83 L2284.37 641.27 L2285.92 637.66 L2287.46 634.02 L2288.99 630.36 L2290.52 626.68 L2292.05 623 L2293.59 619.32 L2295.14 615.63 L2296.7 611.95 L2298.26 608.28 L2299.83 604.6 L2301.39 600.93 L2302.96 597.26 L2304.53 593.6 L2306.09 589.94 L2307.66 586.29 L2309.22 582.63 L2310.78 578.98 L2312.33 575.34 L2313.89 571.69 L2315.45 568.04 L2317.01 564.4" fill="none" stroke="#000" stroke-width="4.7" stroke-linejoin="round" stroke-linecap="round"/>
<g fill="#3333ff" stroke="#000" stroke-width="2.8" stroke-linejoin="miter">
<ellipse cx="445.5" cy="1171.3" rx="17" ry="17.6"/>
<ellipse cx="516.02" cy="1171.3" rx="17" ry="17.6"/>
<ellipse cx="586.54" cy="1171.3" rx="17" ry="17.6"/>
<ellipse cx="657.06" cy="1171.3" rx="17" ry="17.6"/>
<ellipse cx="727.58" cy="1171.3" rx="17" ry="17.6"/>
<ellipse cx="798.1" cy="1171.3" rx="17" ry="17.6"/>
<ellipse cx="868.62" cy="1171.3" rx="17" ry="17.6"/>
<ellipse cx="939.14" cy="1171.3" rx="17" ry="17.6"/>
<ellipse cx="1009.66" cy="1171.5" rx="17" ry="17.6"/>
<ellipse cx="1080.18" cy="1171.5" rx="17" ry="17.6"/>
<ellipse cx="1150.7" cy="1171.5" rx="17" ry="17.6"/>
<ellipse cx="1221.23" cy="1171.3" rx="17" ry="17.6"/>
<ellipse cx="1291.75" cy="1171" rx="17" ry="17.6"/>
<ellipse cx="1362.27" cy="1170.5" rx="17" ry="17.6"/>
<ellipse cx="1432.79" cy="1169.6" rx="17" ry="17.6"/>
<ellipse cx="1503.31" cy="1168" rx="17" ry="17.6"/>
<ellipse cx="1573.83" cy="1165" rx="17" ry="17.6"/>
<ellipse cx="1644.35" cy="1159.7" rx="17" ry="17.6"/>
<ellipse cx="1714.87" cy="1152" rx="17" ry="17.6"/>
<ellipse cx="1785.39" cy="1139.6" rx="17" ry="17.6"/>
<ellipse cx="1855.91" cy="1122.1" rx="17" ry="17.6"/>
<ellipse cx="1926.43" cy="1098.1" rx="17" ry="17.6"/>
<ellipse cx="1996.95" cy="1061.1" rx="17" ry="17.6"/>
<ellipse cx="2067.47" cy="1013" rx="17" ry="17.6"/>
<ellipse cx="2098.66" cy="961.4" rx="17" ry="17.6"/>
<ellipse cx="2129.85" cy="912.5" rx="17" ry="17.6"/>
<ellipse cx="2161.05" cy="865.1" rx="17" ry="17.6"/>
<ellipse cx="2192.24" cy="816.6" rx="17" ry="17.6"/>
<ellipse cx="2223.43" cy="763" rx="17" ry="17.6"/>
<ellipse cx="2254.62" cy="713.3" rx="17" ry="17.6"/>
<ellipse cx="2267.1" cy="678.9" rx="17" ry="17.6"/>
<ellipse cx="2279.57" cy="651.8" rx="17" ry="17.6"/>
<ellipse cx="2292.05" cy="623" rx="17" ry="17.6"/>
<ellipse cx="2304.53" cy="593.6" rx="17" ry="17.6"/>
<ellipse cx="2317.01" cy="564.4" rx="17" ry="17.6"/>
</g>
</svg>
</body>
</html>
